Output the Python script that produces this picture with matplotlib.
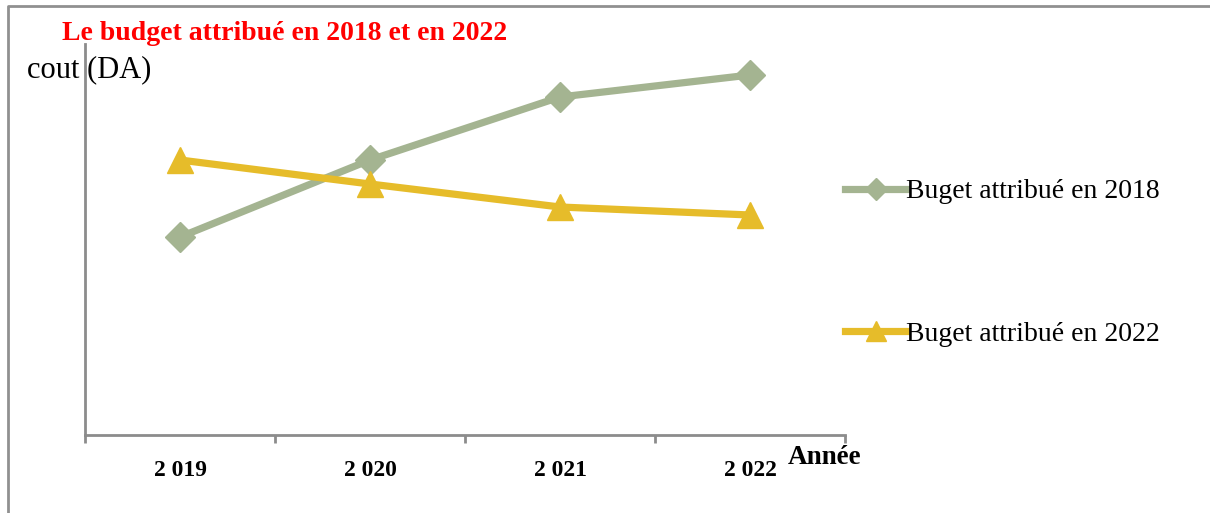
import matplotlib.pyplot as plt
from matplotlib.lines import Line2D

# budget values (relative units, no scale shown on the axis)
years = ["2 019", "2 020", "2 021", "2 022"]
budget_2018 = [198, 275, 338, 360]
budget_2022 = [275, 251, 228, 220]

green = "#A4B491"
gold = "#E6BC2A"
axis_grey = "#8C8C8C"
serif = ["Liberation Serif", "DejaVu Serif"]

fig = plt.figure(figsize=(12.1, 5.13), dpi=100)
ax = fig.add_axes([85 / 1210, 78 / 513, 760 / 1210, 391 / 513])

x = range(len(years))
ax.plot(x, budget_2018, color=green, lw=5.2, marker="D", ms=15, label="Buget attribué en 2018")
ax.plot(x, budget_2022, color=gold, lw=5.2, marker="^", ms=19, label="Buget attribué en 2022")

ax.set_xlim(-0.5, 3.5)
ax.set_ylim(0, 391)
for s in ["top", "right"]:
    ax.spines[s].set_visible(False)
for s in ["left", "bottom"]:
    ax.spines[s].set_color(axis_grey)
    ax.spines[s].set_linewidth(2)
ax.set_yticks([])
ax.set_xticks([-0.5, 0.5, 1.5, 2.5, 3.5])
ax.set_xticklabels([])
ax.tick_params(axis="x", which="major", direction="out", length=6, width=2, color=axis_grey)
ax.set_xticks(list(x), minor=True)
ax.set_xticklabels(years, minor=True, family=serif, fontsize=17, fontweight="bold")
ax.tick_params(axis="x", which="minor", length=0, pad=18)

fig.text(62 / 1210, 1 - 34 / 513, "Le budget attribué en 2018 et en 2022", color="red",
         family=serif, fontweight="bold", fontsize=20, va="center")
fig.text(27 / 1210, 1 - 70 / 513, "cout (DA)", family=serif, fontsize=22, va="center")
fig.text(788 / 1210, 1 - 457 / 513, "Année", family=serif, fontsize=19.5, fontweight="bold", va="center")

handles = [
    Line2D([], [], color=green, lw=5.2, marker="D", ms=11),
    Line2D([], [], color=gold, lw=5.2, marker="^", ms=14),
]
leg = fig.legend(handles, ["Buget attribué en 2018", "Buget attribué en 2022"],
                 loc="upper left", bbox_to_anchor=(845 / 1210, 1 - 179 / 513),
                 frameon=False, borderpad=0, borderaxespad=0, handlelength=2.2,
                 handletextpad=0.0, labelspacing=4.2, prop={"family": serif, "size": 20})

# outer frame
fig.add_artist(Line2D([8 / 1210, 8 / 1210, 1.0], [0, 1 - 6 / 513, 1 - 6 / 513],
                      transform=fig.transFigure, color="#909090", lw=2))

fig.savefig("out.png", dpi=100)
